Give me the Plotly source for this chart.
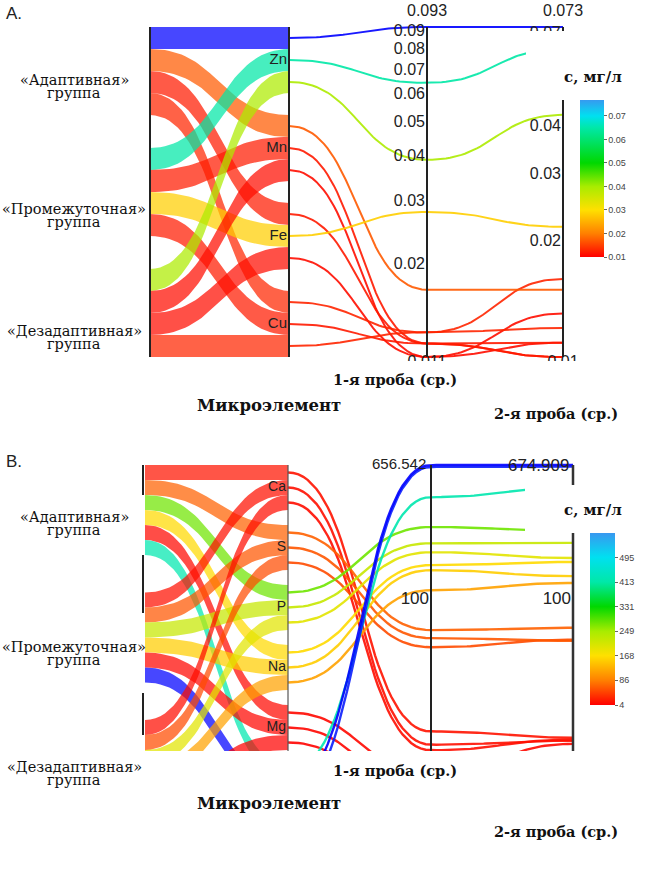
import numpy as np
import plotly.graph_objects as go

W, H = 661, 874

# ---------------- DATA: panel A (микроэлементы, мг/л) ----------------
A_elements = ["Zn", "Mn", "Fe", "Cu"]
# rows = groups: «Адаптивная», «Промежуточная», «Дезадаптивная»; columns = A_elements
A_s1_adapt = [0.093, 0.0170, 0.0120, 0.0129]
A_s1_inter = [0.0648, 0.0120, 0.0281, 0.0120]
A_s1_disad = [0.0394, 0.0110, 0.0110, 0.0129]
A_s2_adapt = [0.073, 0.0150, 0.0109, 0.0160]
A_s2_inter = [0.0640, 0.0100, 0.0219, 0.0100]
A_s2_disad = [0.0430, 0.0130, 0.0109, 0.0119]
A_ticks1 = [0.02, 0.03, 0.04, 0.05, 0.06, 0.07, 0.08, 0.09]
A_ticks2 = [0.02, 0.03, 0.04, 0.05, 0.06, 0.07]
A_cbar_ticks = [0.01, 0.02, 0.03, 0.04, 0.05, 0.06, 0.07]
A_cbar_range = [0.01, 0.0768]

# ---------------- DATA: panel B ----------------
B_elements = ["Ca", "S", "P", "Na", "Mg", "K"]
B_s1_adapt = [16.1, 66.0, 277.0, 163.0, 9.0, 420.0]
B_s1_inter = [13.4, 59.0, 221.0, 152.0, 7.0, 656.542]
B_s1_disad = [12.4, 52.0, 195.0, 115.0, 5.4, 640.0]
B_s2_adapt = [14.2, 67.3, 265.0, 171.0, 13.0, 488.0]
B_s2_inter = [13.6, 56.0, 224.0, 140.0, 6.0, 674.909]
B_s2_disad = [13.8, 56.8, 181.0, 127.0, 5.1, 660.0]
B_ticks1 = [100]
B_ticks2 = [100]
B_cbar_ticks = [4, 86, 168, 249, 331, 413, 495]
B_cbar_range = [4, 576]

GROUP_LINE1 = ["«Адаптивная»", "«Промежуточная»", "«Дезадаптивная»"]
GROUP_LINE2 = "группа"
T_S1 = "1-я проба (ср.)"
T_S2 = "2-я проба (ср.)"
T_EL = "Микроэлемент"
CB_TITLE = "с, мг/л"

# colour stops (value, colour)
A_stops = [(0.010, '#ff0000'), (0.020, '#ff8000'), (0.030, '#ffe000'), (0.040, '#a8ec00'),
           (0.050, '#00d800'), (0.065, '#00e8a8'), (0.070, '#00e0f0'), (0.077, '#3898f0'),
           (0.093, '#0000ff')]
B_stops = [(4, '#ff0000'), (86, '#ff8000'), (168, '#ffe000'), (249, '#a8ec00'),
           (331, '#00d800'), (413, '#00e8a8'), (495, '#00e0f0'), (576, '#3898f0'),
           (656.542, '#0000ff')]

SERIF = "DejaVu Serif"
SANS = "Liberation Sans, Arial, sans-serif"


def hex2rgb(h):
    h = h.lstrip('#')
    return tuple(int(h[i:i + 2], 16) for i in (0, 2, 4))


def make_cmap(stops):
    vs = np.array([s[0] for s in stops], float)
    cs = np.array([hex2rgb(s[1]) for s in stops], float)

    def f(v):
        v = min(max(v, vs[0]), vs[-1])
        return tuple(int(round(np.interp(v, vs, cs[:, k]))) for k in range(3))
    return f


def cbar_scale(stops, cmin, cmax, f):
    pts = [(0.0, f(cmin))]
    pts += [((v - cmin) / (cmax - cmin), f(v)) for v, _ in stops if cmin < v < cmax]
    pts += [(1.0, f(cmax))]
    return [[p, 'rgb(%d,%d,%d)' % c] for p, c in pts]


def rgba(c, a):
    return 'rgba(%d,%d,%d,%.2f)' % (c[0], c[1], c[2], a)


def bez(x0, y0, x1, y1, n=40):
    t = np.linspace(0, 1, n)
    xm = (x0 + x1) / 2
    a, b, c, d = (1 - t) ** 3, 3 * (1 - t) ** 2 * t, 3 * (1 - t) * t ** 2, t ** 3
    return a * x0 + (b + c) * xm + d * x1, (a + b) * y0 + (c + d) * y1


fig = go.Figure()


def add_panel(xa, ya, elements, s1, s2, dim_x, el_gap, cfun, line_w, ticks1, ticks2,
              tick_size, label_size, px_unit, min_label_px, ribbon_alpha=0.72):
    ng, ne = len(s1), len(elements)
    n = ng * ne
    h = (1 - (ne - 1) * el_gap) / n
    g_gap = (1 - n * h) / (ng - 1)
    all1 = [v for r in s1 for v in r]
    all2 = [v for r in s2 for v in r]
    lo1, hi1 = np.log10(min(all1)), np.log10(max(all1))
    lo2, hi2 = np.log10(min(all2)), np.log10(max(all2))
    n1 = lambda v: (np.log10(v) - lo1) / (hi1 - lo1)
    n2 = lambda v: (np.log10(v) - lo2) / (hi2 - lo2)
    lines = []
    for gi in range(ng):
        for ei in range(ne):
            lt = 1 - (gi * (ne * h + g_gap) + ei * h)
            et = 1 - (ei * (ng * h + el_gap) + gi * h)
            col = cfun(s1[gi][ei])
            xt, yt = bez(dim_x[0], lt, dim_x[1], et)
            xb, yb = bez(dim_x[0], lt - h, dim_x[1], et - h)
            fig.add_trace(go.Scatter(x=np.r_[xt, xb[::-1]], y=np.r_[yt, yb[::-1]],
                                     fill='toself', mode='lines', line=dict(width=0),
                                     fillcolor=rgba(col, ribbon_alpha), hoverinfo='skip',
                                     xaxis=xa, yaxis=ya))
            lines.append((s1[gi][ei], et - h / 2, n1(s1[gi][ei]), n2(s2[gi][ei]), col))
    for v, yc, a1, a2, col in sorted(lines, key=lambda r: r[0]):
        x1, y1 = bez(dim_x[1], yc, dim_x[2], a1)
        x2, y2 = bez(dim_x[2], a1, dim_x[3], a2)
        fig.add_trace(go.Scatter(x=np.r_[x1, x2], y=np.r_[y1, y2], mode='lines',
                                 line=dict(color=rgba(col, 0.9), width=line_w),
                                 hoverinfo='skip', xaxis=xa, yaxis=ya))
    # element labels
    fig.add_trace(go.Scatter(
        x=[dim_x[1] - 2] * ne,
        y=[1 - (ei * (ng * h + el_gap)) - ng * h / 2 for ei in range(ne)],
        text=elements, mode='text', textposition='middle left',
        textfont=dict(size=label_size, color='#222', family=SANS),
        cliponaxis=True, hoverinfo='skip', xaxis=xa, yaxis=ya))
    # tick labels
    for dx, ticks, nf in ((dim_x[2], ticks1, n1), (dim_x[3], ticks2, n2)):
        fig.add_trace(go.Scatter(
            x=[dx - 2] * len(ticks), y=[nf(v) for v in ticks],
            text=['%g' % v for v in ticks], mode='text', textposition='middle left',
            textfont=dict(size=tick_size, color='#222', family=SANS),
            cliponaxis=True, hoverinfo='skip', xaxis=xa, yaxis=ya))
    # min range labels (below the axes, clipped)
    fig.add_trace(go.Scatter(
        x=[dim_x[2], dim_x[3]], y=[-min_label_px / px_unit] * 2,
        text=['%g' % min(all1), '%g' % min(all2)], mode='text', textposition='middle center',
        textfont=dict(size=tick_size, color='#222', family=SANS),
        cliponaxis=True, hoverinfo='skip', xaxis=xa, yaxis=ya))
    return max(all1), max(all2)


fA = make_cmap(A_stops)
fB = make_cmap(B_stops)

# ---- layout constants ----
A_dim_x = [150, 289, 427, 563]
B_dim_x = [145, 288, 431, 573]
A_top, A_bot = 27, 357          # px of normalized 1 and 0
B_top, B_bot = 465, 810
A_dom = (14, 361)               # visible px range
B_dom = (456, 751)

A_max = add_panel('x', 'y', A_elements, [A_s1_adapt, A_s1_inter, A_s1_disad],
                  [A_s2_adapt, A_s2_inter, A_s2_disad], A_dim_x, 1 / 15, fA, 2.0,
                  A_ticks1, A_ticks2, 16, 15, A_bot - A_top, 6)
B_max = add_panel('x2', 'y2', B_elements, [B_s1_adapt, B_s1_inter, B_s1_disad],
                  [B_s2_adapt, B_s2_inter, B_s2_disad], B_dim_x, 1 / 23, fB, 2.4,
                  B_ticks1, B_ticks2, 17, 14, B_bot - B_top, 6)

# colour bars (dummy traces)
for (xa, ya, stops, f, rng, ticks, cx, ctop, clen, cth) in (
        ('x', 'y', A_stops, fA, A_cbar_range, A_cbar_ticks, 580, 100, 157, 24),
        ('x2', 'y2', B_stops, fB, B_cbar_range, B_cbar_ticks, 590, 533, 172, 25)):
    fig.add_trace(go.Scatter(
        x=[-50], y=[0.5], mode='markers', xaxis=xa, yaxis=ya, hoverinfo='skip',
        marker=dict(size=1, opacity=0, color=[rng[0]], cmin=rng[0], cmax=rng[1],
                    colorscale=cbar_scale(stops, rng[0], rng[1], f), showscale=True,
                    colorbar=dict(x=cx / W, xanchor='left', y=1 - ctop / H, yanchor='top',
                                  len=clen, lenmode='pixels', thickness=cth, xpad=0, ypad=0,
                                  outlinewidth=0, tickvals=ticks,
                                  ticktext=['%g' % t for t in ticks], ticks='outside',
                                  ticklen=3, tickcolor='#666', tickwidth=1,
                                  tickfont=dict(size=9, color='#444', family=SANS)))))


def dom(px0, px1):
    return [1 - px1 / H, 1 - px0 / H]


def yrange(top, bot, d):
    u = bot - top
    return [(bot - d[1]) / u, (bot - d[0]) / u]


fig.update_layout(
    width=W, height=H, margin=dict(l=0, r=0, t=0, b=0),
    paper_bgcolor='white', plot_bgcolor='rgba(0,0,0,0)', showlegend=False,
    xaxis=dict(domain=[0, 1], range=[0, W], visible=False, anchor='y'),
    yaxis=dict(domain=dom(*A_dom), range=yrange(A_top, A_bot, A_dom), visible=False, anchor='x'),
    xaxis2=dict(domain=[0, 1], range=[0, W], visible=False, anchor='y2'),
    yaxis2=dict(domain=dom(*B_dom), range=yrange(B_top, B_bot, B_dom), visible=False, anchor='x2'),
)

shapes = []
# axis lines
for xa, ya, dx, widths, cols in (
        ('x', 'y', A_dim_x, [2, 2, 2, 2], ['#222', '#222', '#222', '#222']),
        ('x2', 'y2', B_dim_x, [0, 1.2, 2, 2.5], ['#222', '#555', '#222', '#333'])):
    for i, x in enumerate(dx):
        if widths[i] == 0:
            continue
        shapes.append(dict(type='line', xref=xa, yref=ya, x0=x, x1=x, y0=0, y1=1,
                           line=dict(color=cols[i], width=widths[i]), layer='above'))
# panel B left-axis fragments (decoration)
for p0, p1 in [(465, 495), (555, 613), (693, 735)]:
    shapes.append(dict(type='line', xref='paper', yref='paper', x0=143 / W, x1=143 / W,
                       y0=1 - p0 / H, y1=1 - p1 / H, line=dict(color='#222', width=2),
                       layer='above'))
# white boxes hiding part of the 2nd axis behind the colour-bar titles
for x0, y0, y1 in [(526, 31, 100), (525, 485, 533)]:
    shapes.append(dict(type='rect', xref='paper', yref='paper', x0=x0 / W, x1=1,
                       y0=1 - y1 / H, y1=1 - y0 / H, fillcolor='white',
                       line=dict(width=0), layer='above'))
fig.update_layout(shapes=shapes)

ann = []


def txt(x, y, s, size, family, bold=False, xanchor='center', color='#111'):
    ann.append(dict(x=x / W, y=1 - y / H, xref='paper', yref='paper',
                    text=('<b>%s</b>' % s) if bold else s,
                    showarrow=False, xanchor=xanchor, yanchor='middle',
                    font=dict(size=size, family=family, color=color)))


# panel letters
txt(4, 13, "A.", 17, SANS, xanchor='left', color='#222')
txt(4, 461, "B.", 17, SANS, xanchor='left', color='#222')
# group labels
for ys, lab in zip([(80, 93), (209, 222), (331, 344), (517, 530), (647, 660), (767, 780)],
                   GROUP_LINE1 * 2):
    txt(74, ys[0], lab, 14.5, SERIF)
    txt(74, ys[1], GROUP_LINE2, 14.5, SERIF)
# axis titles
for y1, ye, y2 in [(380, 405, 413), (770, 803, 831)]:
    txt(395, y1, T_S1, 14.5, SERIF, bold=True)
    txt(269, ye, T_EL, 16.5, SERIF, bold=True)
    txt(556, y2, T_S2, 14.5, SERIF, bold=True)
# colour-bar titles
txt(593, 77, CB_TITLE, 15, SERIF, bold=True)
txt(593, 510, CB_TITLE, 15, SERIF, bold=True)

# max range labels
ann.append(dict(x=A_dim_x[2], y=1, xref='x', yref='y', text='%g' % A_max[0], showarrow=False,
                xanchor='center', yanchor='bottom', yshift=6,
                font=dict(size=16, family=SANS, color='#222')))
ann.append(dict(x=A_dim_x[3], y=1, xref='x', yref='y', text='%g' % A_max[1], showarrow=False,
                xanchor='center', yanchor='bottom', yshift=6,
                font=dict(size=16, family=SANS, color='#222')))
ann.append(dict(x=B_dim_x[2] - 3, y=1, xref='x2', yref='y2', text='%g' % B_max[0], showarrow=False,
                xanchor='right', yanchor='middle', yshift=2,
                font=dict(size=15, family=SANS, color='#222')))
ann.append(dict(x=B_dim_x[3] - 2, y=1, xref='x2', yref='y2', text='%g' % B_max[1], showarrow=False,
                xanchor='right', yanchor='middle', yshift=0,
                font=dict(size=17, family=SANS, color='#222')))
fig.update_layout(annotations=ann)

fig.write_html("out.html", config={'displayModeBar': False},
               post_script="document.body.style.margin='0';")
